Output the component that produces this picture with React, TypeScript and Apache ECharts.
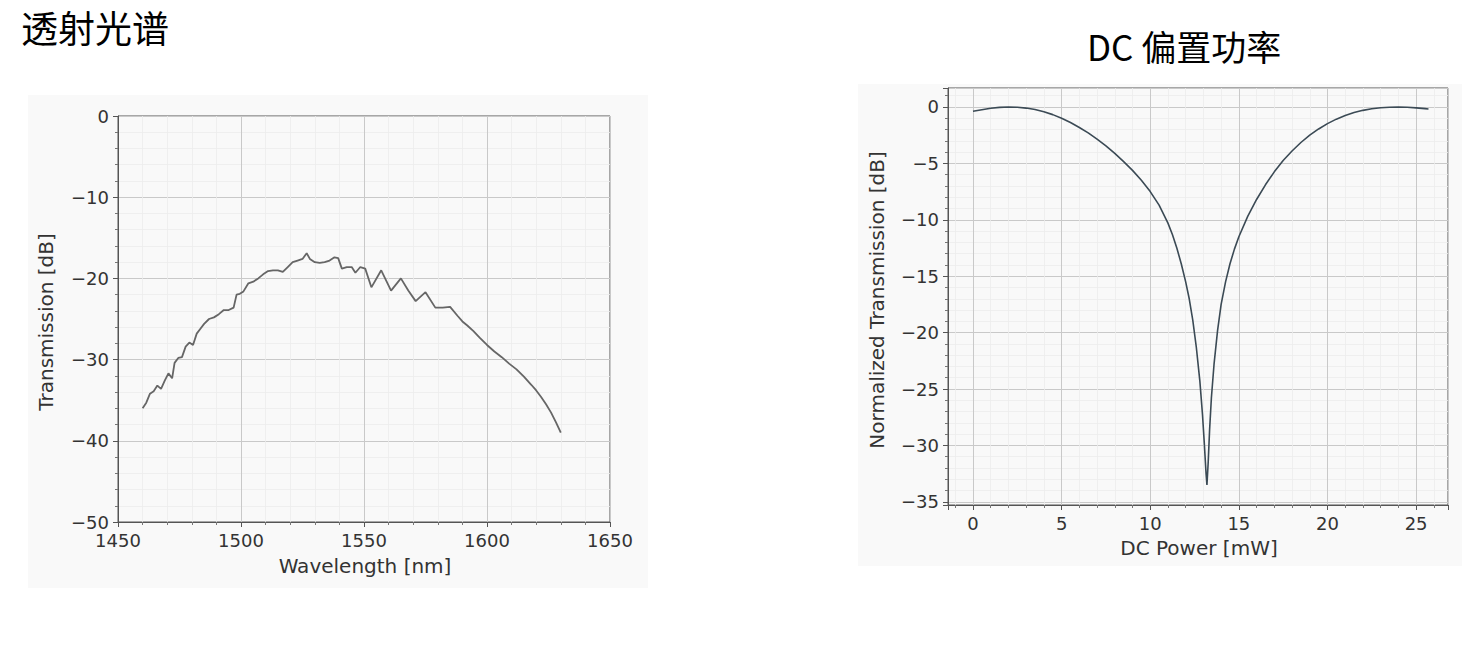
import React, { useEffect, useRef } from "react";
import * as echarts from "echarts";

// ---- Data: transmission spectrum ----
const wavelength = [1460, 1461.5, 1463, 1464.5, 1466, 1467.5, 1469, 1470.5, 1472, 1473, 1474.5, 1476, 1477.5, 1479, 1480.5, 1482, 1483.5, 1485, 1487, 1489, 1491, 1493, 1495, 1497, 1498.2, 1499.5, 1501, 1503, 1505, 1507, 1509, 1511, 1513, 1515, 1517, 1519, 1521, 1523, 1525, 1526.7, 1528, 1530, 1532, 1534, 1536, 1538, 1539.5, 1541, 1543, 1545, 1546.5, 1548.5, 1550.5, 1553, 1557, 1561, 1565, 1568, 1571, 1575, 1579, 1582, 1585, 1588, 1590, 1592, 1594.5, 1597, 1600, 1603, 1606, 1609, 1612, 1615, 1618, 1620, 1622, 1624, 1626, 1628, 1630];
const transmission = [-36.0, -35.3, -34.2, -33.9, -33.2, -33.6, -32.6, -31.7, -32.3, -30.4, -29.8, -29.7, -28.4, -27.9, -28.2, -26.8, -26.2, -25.6, -25.0, -24.8, -24.4, -23.9, -23.9, -23.6, -22.0, -21.9, -21.6, -20.6, -20.4, -20.0, -19.5, -19.1, -19.0, -19.0, -19.2, -18.6, -18.0, -17.8, -17.6, -16.9, -17.6, -18.0, -18.1, -18.0, -17.8, -17.4, -17.5, -18.8, -18.6, -18.6, -19.3, -18.6, -18.8, -21.1, -19.0, -21.5, -20.0, -21.5, -22.8, -21.7, -23.6, -23.6, -23.5, -24.6, -25.3, -25.8, -26.5, -27.3, -28.2, -29.0, -29.7, -30.5, -31.2, -32.1, -33.1, -33.8, -34.6, -35.5, -36.5, -37.7, -39.0];

// ---- Data: DC bias sweep ----
const dcPower = [0, 0.5, 1.0, 1.5, 2.0, 2.5, 3.0, 3.5, 4.0, 4.5, 5.0, 5.5, 6.0, 6.5, 7.0, 7.5, 8.0, 8.5, 9.0, 9.5, 10.0, 10.5, 11.0, 11.25, 11.5, 11.75, 12.0, 12.2, 12.4, 12.6, 12.8, 12.95, 13.05, 13.15, 13.2, 13.27, 13.35, 13.45, 13.6, 13.8, 14.0, 14.25, 14.5, 14.75, 15.0, 15.5, 16.0, 16.5, 17.0, 17.5, 18.0, 18.5, 19.0, 19.5, 20.0, 20.5, 21.0, 21.5, 22.0, 22.5, 23.0, 23.5, 24.0, 24.5, 25.0, 25.5, 25.7];
const normTransmission = [-0.38, -0.25, -0.12, -0.04, 0, -0.02, -0.1, -0.22, -0.42, -0.68, -1.0, -1.38, -1.82, -2.3, -2.85, -3.45, -4.12, -4.85, -5.62, -6.5, -7.5, -8.7, -10.3, -11.3, -12.5, -13.9, -15.5, -17.0, -18.9, -21.3, -24.3, -27.3, -29.8, -32.5, -33.5, -31.5, -28.6, -25.8, -22.8, -19.8, -17.5, -15.5, -13.9, -12.6, -11.5, -9.7, -8.2, -6.9, -5.75, -4.75, -3.9, -3.15, -2.5, -1.95, -1.48, -1.08, -0.76, -0.5, -0.3, -0.16, -0.07, -0.02, 0, -0.02, -0.08, -0.15, -0.18];

const leftTitle = "透射光谱";
const rightTitle = "DC 偏置功率";

const FONT = "DejaVu Sans";
const minusFmt = (v: number) => String(v).replace("-", "\u2212");

function App() {
  const ref = useRef<HTMLDivElement>(null);
  useEffect(() => {
    if (!ref.current) return;
    const chart = echarts.init(ref.current, null, { renderer: "svg" });
    const axisCommon = {
      axisLine: { show: true, onZero: false, lineStyle: { color: "#555", width: 1 } },
      axisTick: { show: true, length: 5, lineStyle: { color: "#555" } },
      minorTick: { show: true, splitNumber: 5, length: 3, lineStyle: { color: "#777" } },
      splitLine: { show: true, lineStyle: { color: "#c9c9c9", width: 1 } },
      minorSplitLine: { show: true, lineStyle: { color: "#ececec", width: 0.8 } },
      axisLabel: { color: "#333", fontFamily: FONT, fontSize: 18, formatter: minusFmt },
    };
    const option: any = {
      animation: false,
      graphic: [
        { type: "rect", shape: { x: 28, y: 95, width: 620, height: 493 }, style: { fill: "#f9f9f9" }, z: -10 },
        { type: "rect", shape: { x: 858, y: 84, width: 604, height: 482 }, style: { fill: "#f9f9f9" }, z: -10 },
        { type: "text", x: 21, y: 27, style: { text: leftTitle, font: "normal 37px 'Noto Sans CJK SC'", fill: "#000", textVerticalAlign: "middle" } },
        { type: "text", x: 1184, y: 45, style: { text: rightTitle, font: "normal 35px 'Noto Sans CJK SC'", fill: "#000", textAlign: "center", textVerticalAlign: "middle" } },
        { type: "text", x: 365, y: 566, style: { text: "Wavelength [nm]", font: `20px '${FONT}'`, fill: "#333", textAlign: "center", textVerticalAlign: "middle" } },
        { type: "text", x: 46, y: 322, rotation: Math.PI / 2, style: { text: "Transmission [dB]", font: `20px '${FONT}'`, fill: "#333", textAlign: "center", textVerticalAlign: "middle" } },
        { type: "text", x: 1199, y: 548, style: { text: "DC Power [mW]", font: `20px '${FONT}'`, fill: "#333", textAlign: "center", textVerticalAlign: "middle" } },
        { type: "text", x: 877, y: 300, rotation: Math.PI / 2, style: { text: "Normalized Transmission [dB]", font: `20px '${FONT}'`, fill: "#333", textAlign: "center", textVerticalAlign: "middle" } },
      ],
      grid: [
        { left: 118, top: 116, width: 492, height: 406, show: true, borderColor: "#555", borderWidth: 1, backgroundColor: "transparent" },
        { left: 948, top: 88, width: 500, height: 417, show: true, borderColor: "#555", borderWidth: 1, backgroundColor: "transparent" },
      ],
      xAxis: [
        { ...axisCommon, type: "value", gridIndex: 0, min: 1450, max: 1650, interval: 50, axisLabel: { ...axisCommon.axisLabel, margin: 9 } },
        { ...axisCommon, type: "value", gridIndex: 1, min: -1.41, max: 26.8, minInterval: 5, maxInterval: 5, axisLabel: { ...axisCommon.axisLabel, margin: 9, showMinLabel: false, showMaxLabel: false } },
      ],
      yAxis: [
        { ...axisCommon, type: "value", gridIndex: 0, min: -50, max: 0, interval: 10, axisLabel: { ...axisCommon.axisLabel, margin: 9 } },
        { ...axisCommon, type: "value", gridIndex: 1, min: -35.28, max: 1.68, minInterval: 5, maxInterval: 5, axisLabel: { ...axisCommon.axisLabel, margin: 9, showMinLabel: false, showMaxLabel: false } },
      ],
      series: [
        {
          type: "line", xAxisIndex: 0, yAxisIndex: 0, showSymbol: false, symbol: "none",
          data: wavelength.map((w, i) => [w, transmission[i]]),
          lineStyle: { color: "#666", width: 1.8 },
        },
        {
          type: "line", xAxisIndex: 1, yAxisIndex: 1, showSymbol: false, symbol: "none",
          data: dcPower.map((p, i) => [p, normTransmission[i]]),
          lineStyle: { color: "#3b4a55", width: 1.6 },
        },
      ],
    };
    chart.setOption(option);
    return () => chart.dispose();
  }, []);
  return <div ref={ref} style={{ position: "absolute", left: 0, top: 0, width: 1483, height: 650, background: "#fff" }} />;
}

export default App;
